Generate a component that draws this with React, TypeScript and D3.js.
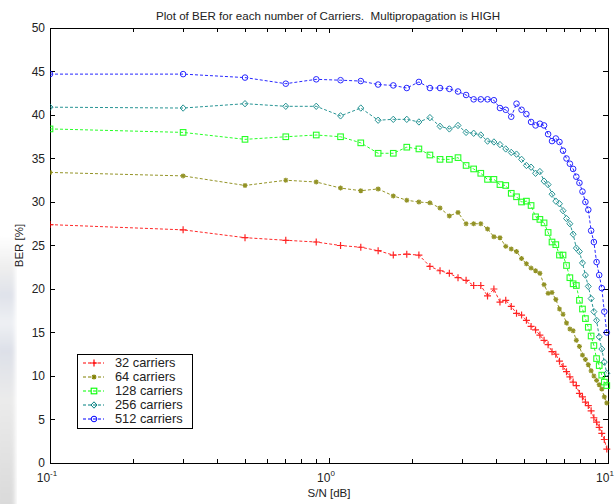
import React from 'react';
import * as d3 from 'd3';

// S/N values (linear, plotted on log axis)
const snr = [0.1, 0.3, 0.5, 0.7, 0.9, 1.1, 1.3, 1.5, 1.7, 1.9, 2.1, 2.3, 2.5, 2.7, 2.9, 3.1, 3.3, 3.5, 3.7, 3.9,
  4.1, 4.3, 4.5, 4.7, 4.9, 5.1, 5.3, 5.5, 5.7, 5.9, 6.1, 6.3, 6.5, 6.7, 6.9, 7.1, 7.3, 7.5, 7.7, 7.9,
  8.1, 8.3, 8.5, 8.7, 8.9, 9.1, 9.3, 9.5, 9.7, 9.9];

const ber32 = [27.4, 26.8, 25.9, 25.6, 25.4, 25.0, 24.8, 24.4, 23.9, 24.0, 23.9, 22.6, 22.1, 21.8, 21.3, 21.0, 20.4, 20.4, 19.2, 20.0,
  18.5, 18.7, 18.0, 17.2, 17.0, 16.4, 15.7, 15.3, 14.7, 14.1, 13.6, 12.8, 12.5, 11.7, 11.1, 10.5, 9.9, 9.3, 8.9, 8.0,
  7.6, 7.0, 6.6, 6.0, 5.2, 4.7, 4.1, 3.4, 2.7, 1.6];
const ber64 = [33.4, 33.0, 31.9, 32.5, 32.3, 31.6, 31.3, 31.5, 30.7, 30.2, 30.0, 29.9, 29.3, 28.4, 28.8, 27.5, 27.5, 27.5, 26.9, 26.0,
  25.9, 24.9, 24.6, 24.3, 23.5, 22.9, 22.4, 22.1, 21.8, 20.5, 19.5, 19.6, 18.8, 17.7, 17.1, 16.1, 15.4, 15.2, 14.1, 13.4,
  12.4, 11.9, 11.3, 10.6, 10.0, 9.5, 9.0, 8.5, 7.6, 6.9];
const ber128 = [38.4, 38.0, 37.2, 37.5, 37.7, 37.5, 36.8, 35.6, 35.6, 36.3, 36.1, 35.4, 34.9, 34.9, 35.1, 34.2, 33.8, 33.3, 32.6, 32.6,
  32.0, 31.9, 31.0, 30.6, 30.0, 30.1, 29.6, 28.3, 28.0, 27.6, 26.5, 25.4, 25.1, 23.9, 23.9, 22.7, 21.3, 20.6, 20.4, 18.7,
  17.7, 16.6, 15.6, 14.6, 13.5, 12.0, 11.2, 10.1, 9.3, 8.9];
const ber256 = [40.9, 40.8, 41.3, 41.0, 41.0, 39.9, 40.8, 39.4, 39.5, 39.5, 39.2, 39.7, 38.7, 38.4, 38.8, 38.0, 37.9, 37.7, 37.0, 36.9,
  36.6, 36.1, 35.7, 35.5, 34.9, 34.2, 34.0, 33.3, 33.5, 32.4, 32.0, 30.9, 30.1, 29.8, 29.0, 28.1, 27.5, 26.3, 24.7, 24.3,
  23.0, 21.6, 20.3, 18.9, 17.4, 16.4, 14.5, 13.1, 11.6, 10.3];
const ber512 = [44.7, 44.7, 44.3, 43.6, 44.1, 44.0, 43.9, 43.5, 43.4, 43.1, 43.8, 43.1, 43.1, 43.0, 42.7, 42.3, 41.8, 41.8, 41.8, 41.7,
  40.8, 40.6, 39.8, 41.3, 40.6, 40.1, 39.2, 38.8, 39.0, 38.8, 37.8, 37.0, 37.3, 36.9, 35.9, 35.0, 34.4, 33.8, 32.9, 32.2,
  31.2, 30.0, 29.1, 26.7, 25.4, 23.1, 21.6, 20.1, 17.4, 15.0];

const seriesNames = ['32 carriers', '64 carriers', '128 carriers', '256 carriers', '512 carriers'];
const seriesValues = [ber32, ber64, ber128, ber256, ber512];
const seriesColors = ['#ff0000', '#808000', '#00ff00', '#008080', '#0000ff'];
const seriesMarkers = ['plus', 'star', 'square', 'diamond', 'circle'];
const yTicks = [0, 5, 10, 15, 20, 25, 30, 35, 40, 45, 50];
const xMajor = [0.1, 1, 10];
const xMajorExp = ['-1', '0', '1'];

const W = 616, H = 504;
const left = 50, right = 608, top = 28, bottom = 463;
const font = 'Liberation Sans, Arial, sans-serif';

function Marker({ type, x, y, color }: { type: string; x: number; y: number; color: string }) {
  if (type === 'plus')
    return <path d={`M${x - 3.5},${y}H${x + 3.5}M${x},${y - 3.5}V${y + 3.5}`} stroke={color} strokeWidth={1.2} fill="none" />;
  if (type === 'star')
    return (
      <g stroke={color} strokeWidth={1.2} fill="none">
        <path d={`M${x - 2.5},${y}H${x + 2.5}M${x},${y - 2.5}V${y + 2.5}M${x - 1.8},${y - 1.8}L${x + 1.8},${y + 1.8}M${x - 1.8},${y + 1.8}L${x + 1.8},${y - 1.8}`} />
      </g>
    );
  if (type === 'square')
    return <rect x={x - 2.8} y={y - 2.8} width={5.6} height={5.6} stroke={color} strokeWidth={1.1} fill="none" />;
  if (type === 'diamond')
    return <path d={`M${x},${y - 3.2}L${x + 3},${y}L${x},${y + 3.2}L${x - 3},${y}Z`} stroke={color} strokeWidth={1} fill="none" />;
  return <circle cx={x} cy={y} r={2.8} stroke={color} strokeWidth={1} fill="none" />;
}

export default function App() {
  const x = d3.scaleLog().domain([0.1, 10]).range([left, right]);
  const y = d3.scaleLinear().domain([0, 50]).range([bottom, top]);
  const line = d3.line<number>().x((_, i) => x(snr[i])).y(d => y(d));
  const xTicks = x.ticks();
  const isMajor = (t: number) => xMajor.some(m => Math.abs(m - t) < 1e-9);

  return (
    <div style={{ position: 'fixed', left: 0, top: 0 }}>
      <svg width={W} height={H} style={{ display: 'block', background: '#fff' }}>
        <defs>
          <linearGradient id="bg" x1="0" y1="0" x2="0" y2="1">
            <stop offset="0" stopColor="#ffffff" />
            <stop offset="0.12" stopColor="#eeeeee" />
            <stop offset="0.22" stopColor="#dfe2ea" />
            <stop offset="0.32" stopColor="#eef0f4" />
            <stop offset="0.42" stopColor="#dde0e8" />
            <stop offset="0.6" stopColor="#ebebeb" />
            <stop offset="0.8" stopColor="#e2e2e2" />
            <stop offset="1" stopColor="#d9d9d9" />
          </linearGradient>
          <filter id="blur"><feGaussianBlur stdDeviation="2" /></filter>
          <clipPath id="plot"><rect x={left} y={top - 4} width={right - left + 4} height={bottom - top + 8} /></clipPath>
        </defs>
        <rect x={-4} y={235} width={19} height={275} fill="url(#bg)" filter="url(#blur)" />

        {/* title */}
        <text x={328} y={20} textAnchor="middle" fontFamily={font} fontSize={11.6} fill="#222">
          Plot of BER for each number of Carriers.{'\u00a0\u00a0'}Multipropagation is HIGH
        </text>

        {/* axes box */}
        <rect x={left} y={top} width={right - left} height={bottom - top} fill="none" stroke="#000" strokeWidth={1} shapeRendering="crispEdges" />

        {/* y ticks */}
        {yTicks.map(t => (
          <g key={t}>
            <path d={`M${left},${y(t)}h5M${right},${y(t)}h-5`} stroke="#000" shapeRendering="crispEdges" />
            <text x={left - 5} y={y(t) + 4} textAnchor="end" fontFamily={font} fontSize={12} fill="#222">{t}</text>
          </g>
        ))}

        {/* x ticks */}
        {xTicks.map((t, i) => {
          const len = isMajor(t) ? 5 : 4;
          return (
            <path key={i} d={`M${x(t)},${bottom}v${-len}M${x(t)},${top}v${len}`} stroke="#000" shapeRendering="crispEdges" />
          );
        })}
        {xMajor.map((t, i) => (
          <text key={t} x={x(t) - 3} y={482} textAnchor="middle" fontFamily={font} fontSize={12} fill="#222">
            10<tspan dy={-6} fontSize={8}>{xMajorExp[i]}</tspan>
          </text>
        ))}

        {/* axis labels */}
        <text x={329} y={497} textAnchor="middle" fontFamily={font} fontSize={11.5} fill="#222">S/N [dB]</text>
        <text transform={`translate(23,${(top + bottom) / 2}) rotate(-90)`} textAnchor="middle" fontFamily={font} fontSize={11.5} fill="#222">BER [%]</text>

        {/* series */}
        <g clipPath="url(#plot)">
          {seriesValues.map((vals, si) => (
            <g key={si} opacity={0.85}>
              <path d={line(vals) || ''} fill="none" stroke={seriesColors[si]} strokeWidth={1} strokeDasharray="3,2" />
              {vals.map((v, i) => (
                <Marker key={i} type={seriesMarkers[si]} x={x(snr[i])} y={y(v)} color={seriesColors[si]} />
              ))}
            </g>
          ))}
        </g>

        {/* legend */}
        <rect x={77} y={354} width={115} height={74} fill="#fff" stroke="#000" shapeRendering="crispEdges" />
        {seriesNames.map((name, i) => {
          const ly = 363 + i * 14;
          return (
            <g key={name}>
              <path d={`M83,${ly}H104`} stroke={seriesColors[i]} strokeDasharray="3,2" />
              <Marker type={seriesMarkers[i]} x={94} y={ly} color={seriesColors[i]} />
              <text x={115} y={ly + 4} fontFamily={font} fontSize={12.8} fill="#222">{name}</text>
            </g>
          );
        })}
      </svg>
    </div>
  );
}
